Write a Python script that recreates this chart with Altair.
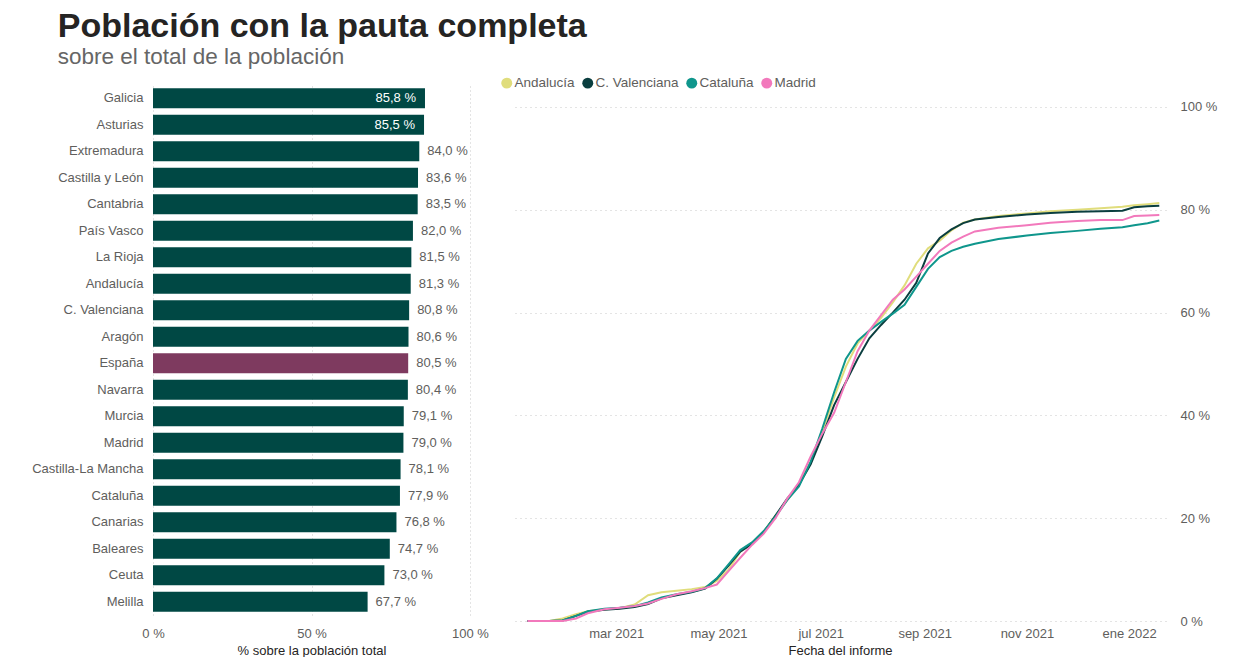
import altair as alt
import pandas as pd

FONT = "Liberation Sans"
TXT = "#605E5C"

# ---- Bar chart data ----
regions = ["Galicia", "Asturias", "Extremadura", "Castilla y León", "Cantabria",
           "País Vasco", "La Rioja", "Andalucía", "C. Valenciana", "Aragón",
           "España", "Navarra", "Murcia", "Madrid", "Castilla-La Mancha",
           "Cataluña", "Canarias", "Baleares", "Ceuta", "Melilla"]
region_values = [85.8, 85.5, 84.0, 83.6, 83.5, 82.0, 81.5, 81.3, 80.8, 80.6,
                 80.5, 80.4, 79.1, 79.0, 78.1, 77.9, 76.8, 74.7, 73.0, 67.7]

# ---- Line chart data ----
dates = ["2021-01-07", "2021-01-20", "2021-01-28", "2021-02-05", "2021-02-12",
         "2021-02-22", "2021-03-03", "2021-03-12", "2021-03-20", "2021-03-28",
         "2021-04-06", "2021-04-15", "2021-04-23", "2021-04-30", "2021-05-07",
         "2021-05-14", "2021-05-21", "2021-05-28", "2021-06-04", "2021-06-11",
         "2021-06-18", "2021-06-25", "2021-07-02", "2021-07-09", "2021-07-16",
         "2021-07-23", "2021-07-30", "2021-08-06", "2021-08-13", "2021-08-20",
         "2021-08-27", "2021-09-03", "2021-09-10", "2021-09-17", "2021-09-24",
         "2021-10-01", "2021-10-15", "2021-11-01", "2021-11-15", "2021-12-01",
         "2021-12-15", "2021-12-28", "2022-01-04", "2022-01-12", "2022-01-19"]
andalucia = [0, 0, 0.5, 1.3, 1.9, 2.3, 2.5, 3.2, 5.0, 5.6,
             5.9, 6.2, 6.6, 7.8, 10.0, 13.5, 15.2, 17.4, 20.5, 23.5,
             26.5, 31.0, 37.0, 43.5, 49.5, 54.0, 56.5, 59.0, 62.0, 65.3,
             69.5, 72.5, 74.0, 76.0, 77.5, 78.1, 78.8, 79.3, 79.7, 80.0,
             80.3, 80.6, 80.9, 81.1, 81.3]
valenciana = [0, 0, 0.1, 1.0, 1.8, 2.2, 2.4, 2.7, 3.3, 4.4,
              5.0, 5.6, 6.3, 8.2, 10.8, 13.5, 15.0, 17.3, 20.5, 23.8,
              26.5, 30.5, 36.0, 42.0, 46.5, 51.0, 55.0, 57.6, 60.0, 62.5,
              65.8, 71.5, 74.5, 76.2, 77.4, 78.1, 78.6, 79.1, 79.4, 79.6,
              79.7, 79.8, 80.5, 80.7, 80.8]
cataluna = [0, 0, 0.1, 1.0, 1.9, 2.4, 2.6, 2.9, 3.6, 4.6,
            5.2, 5.7, 6.4, 8.3, 11.0, 13.8, 15.3, 17.5, 20.3, 23.5,
            26.2, 31.0, 37.5, 44.5, 51.0, 54.5, 56.5, 58.2, 59.8, 61.5,
            65.0, 68.5, 70.8, 72.0, 72.8, 73.4, 74.3, 75.0, 75.5, 75.9,
            76.3, 76.6, 77.0, 77.4, 77.9]
madrid = [0, 0, 0, 0.5, 1.5, 2.3, 2.6, 2.9, 3.4, 4.3,
          5.2, 5.8, 6.4, 7.1, 9.7, 12.3, 14.8, 17.0, 20.0, 23.8,
          27.0, 32.0, 36.5, 40.5, 46.5, 52.5, 56.5, 59.5, 62.5, 64.5,
          67.0, 69.5, 72.0, 73.6, 74.8, 75.8, 76.5, 77.0, 77.5, 77.8,
          78.0, 78.0, 78.8, 78.9, 79.0]

series_names = ["Andalucía", "C. Valenciana", "Cataluña", "Madrid"]
series_values = [andalucia, valenciana, cataluna, madrid]
series_colors = ["#E0DD7C", "#0A3E3F", "#0F968C", "#F279BC"]

bar_color = "#004844"
spain_color = "#7E3A5F"

# ---- Build tables ----
bars_df = pd.DataFrame({"region": regions, "value": region_values})
bars_df["pct"] = bars_df["value"] / 100
bars_df["label"] = bars_df["value"].map(lambda v: f"{v:.1f}".replace(".", ",") + " %")
bars_df["inside"] = bars_df["value"] > 85

rows = []
for name, vals in zip(series_names, series_values):
    for d, v in zip(dates, vals):
        rows.append({"region": name, "date": d, "pct": v / 100})
line_df = pd.DataFrame(rows)

# ---- Bar chart ----
ybar = alt.Y("region:N", sort=regions,
             scale=alt.Scale(paddingInner=0.245, paddingOuter=0.12),
             axis=alt.Axis(title=None, domain=False, ticks=False, labelPadding=10,
                           labelFontSize=13, labelColor=TXT, labelFont=FONT))
xbar = alt.X("pct:Q", scale=alt.Scale(domain=[0, 1], nice=False),
             axis=alt.Axis(values=[0, 0.5, 1], labelExpr="datum.value*100 + ' %'",
                           labelFlush=False,
                           title="% sobre la población total", titleFontSize=13,
                           titleFontWeight="normal", titleColor="#252423", titleFont=FONT,
                           titlePadding=4, labelFontSize=13, labelColor=TXT, labelFont=FONT,
                           labelPadding=12, grid=True, gridDash=[1, 3], gridColor="#C8C8C8",
                           domain=False, ticks=False))

bars = alt.Chart(bars_df).mark_bar().encode(
    y=ybar, x=xbar,
    color=alt.when(alt.datum.region == "España").then(alt.value(spain_color)).otherwise(alt.value(bar_color)),
)
txt_out = alt.Chart(bars_df).transform_filter("!datum.inside").mark_text(
    align="left", dx=8, fontSize=13, font=FONT, color=TXT
).encode(y=alt.Y("region:N", sort=regions), x="pct:Q", text="label:N")
txt_in = alt.Chart(bars_df).transform_filter("datum.inside").mark_text(
    align="right", dx=-9, fontSize=13, font=FONT, color="white"
).encode(y=alt.Y("region:N", sort=regions), x="pct:Q", text="label:N")

bar_chart = alt.layer(bars, txt_out, txt_in).properties(width=317, height=530)

# ---- Line chart ----
month_expr = ("['ene','feb','mar','abr','may','jun','jul','ago','sep','oct','nov','dic']"
              "[utcmonth(datum.value)] + ' ' + utcyear(datum.value)")
tick_dates = [alt.DateTime(year=2021, month=m, date=1, utc=True) for m in [3, 5, 7, 9, 11]] + \
             [alt.DateTime(year=2022, month=1, date=1, utc=True)]

xline = alt.X("date:T",
              scale=alt.Scale(type="utc",
                              domain=[alt.DateTime(year=2020, month=12, date=30, utc=True),
                                      alt.DateTime(year=2022, month=1, date=23, utc=True)]),
              axis=alt.Axis(values=tick_dates, labelExpr=month_expr, title="Fecha del informe",
                            titleFontSize=13, titleFontWeight="normal", titleColor="#252423",
                            titleFont=FONT, titlePadding=4, labelFontSize=13, labelColor=TXT,
                            labelFont=FONT, labelPadding=6, labelFlush=False,
                            grid=False, domain=False, ticks=False))
yline = alt.Y("pct:Q", scale=alt.Scale(domain=[0, 1.0428], nice=False),
              axis=alt.Axis(orient="right", values=[0, 0.2, 0.4, 0.6, 0.8, 1],
                            labelExpr="datum.value*100 + ' %'", title=None, labelFontSize=13,
                            labelColor=TXT, labelFont=FONT, labelPadding=14, grid=True,
                            gridDash=[1, 4], gridColor="#C8C8C8", domain=False, ticks=False))
legend = alt.Legend(orient="none", legendX=347, legendY=-9,
                    direction="horizontal", title=None, symbolType="circle",
                    symbolSize=120, symbolStrokeWidth=0, labelFontSize=13.5,
                    labelColor=TXT, labelFont=FONT, columnPadding=6, labelOffset=1)
cscale = alt.Scale(domain=series_names, range=series_colors)

dots = alt.Chart(line_df).mark_circle(size=0, opacity=1).encode(
    x=xline, y=yline, color=alt.Color("region:N", scale=cscale, legend=legend))
lines = alt.Chart(line_df).mark_line(strokeWidth=2).encode(
    x=xline, y=yline, color=alt.Color("region:N", scale=cscale, legend=legend),
    order=alt.Order("date:T"))

line_chart = alt.layer(dots, lines).properties(width=652, height=536)

chart = alt.hconcat(bar_chart, line_chart, spacing=25).properties(
    title=alt.TitleParams(
        text="Población con la pauta completa",
        subtitle="sobre el total de la población",
        anchor="start", font=FONT, fontSize=34, fontWeight="bold", color="#252423",
        subtitleFont=FONT, subtitleFontSize=22.5, subtitleColor="#666666",
        subtitlePadding=2, offset=8, dx=26, frame="bounds"),
    padding={"left": 23, "top": 1, "right": 5, "bottom": 0},
    background="white",
).configure_view(stroke=None)

chart.save("out.html", embed_options={"renderer": "svg", "actions": False})
